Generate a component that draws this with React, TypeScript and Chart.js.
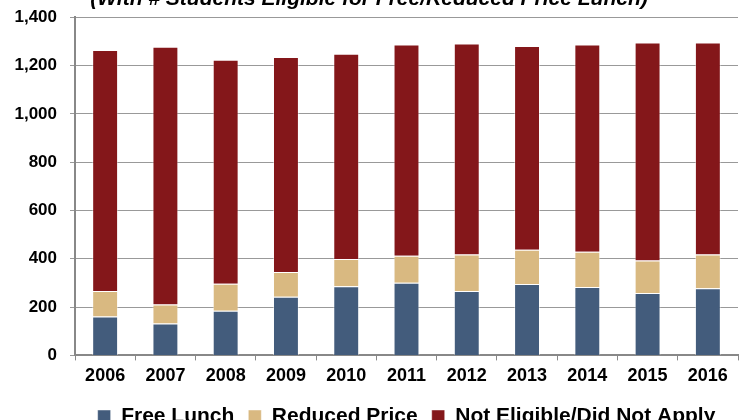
import React, { useEffect, useRef } from "react";
import { Chart, registerables } from "chart.js";

Chart.register(...registerables);

const years = ["2006", "2007", "2008", "2009", "2010", "2011", "2012", "2013", "2014", "2015", "2016"];
const freeLunch = [161, 132, 185, 243, 286, 301, 267, 296, 283, 258, 278];
const reducedPrice = [106, 79, 112, 102, 113, 111, 151, 141, 146, 135, 140];
const notEligible = [997, 1067, 927, 890, 850, 875, 873, 844, 858, 902, 877];
const yTicks = [0, 200, 400, 600, 800, 1000, 1200, 1400];

const titleText = "(With # Students Eligible for Free/Reduced Price Lunch)";
const seriesNames = ["Free Lunch", "Reduced Price", "Not Eligible/Did Not Apply"];
const seriesColors = ["#435C7C", "#D9B981", "#84171A"];

export default function App() {
  const ref = useRef<HTMLCanvasElement | null>(null);
  useEffect(() => {
    if (!ref.current) return;
    const font = "'Liberation Sans', Arial, sans-serif";
    const chart = new Chart(ref.current, {
      type: "bar",
      data: {
        labels: years,
        datasets: [freeLunch, reducedPrice, notEligible].map((d, i) => ({
          label: seriesNames[i],
          data: d,
          backgroundColor: seriesColors[i],
          borderColor: "rgba(255,255,255,0.45)",
          borderWidth: 1,
          categoryPercentage: 1,
          barPercentage: 0.43,
        })),
      },
      options: {
        animation: false,
        responsive: false,
        maintainAspectRatio: false,
        layout: { padding: { left: 0, right: 2, top: 0, bottom: 0 } },
        plugins: {
          title: {
            display: true,
            text: titleText,
            color: "#000",
            font: { family: font, size: 21, weight: "bold", style: "italic" },
            padding: { top: 0, bottom: 5 },
          },
          legend: {
            position: "bottom",
            fullSize: false,
            labels: {
              color: "#000",
              font: { family: font, size: 21, weight: "bold" },
              boxWidth: 13,
              boxHeight: 13,
              padding: 14,
            },
          },
          tooltip: { enabled: false },
        },
        scales: {
          x: {
            stacked: true,
            grid: {
              display: true,
              drawOnChartArea: false,
              drawTicks: true,
              tickLength: 5,
              color: "#888",
              lineWidth: 1,
            },
            border: { display: true, color: "#888", width: 2 },
            ticks: {
              color: "#000",
              font: { family: font, size: 18, weight: "bold" },
              padding: 5,
            },
          },
          y: {
            stacked: true,
            min: 0,
            max: 1400,
            afterFit: (axis: any) => {
              axis.width = 75;
            },
            afterBuildTicks: (axis: any) => {
              axis.ticks = yTicks.map((v) => ({ value: v }));
            },
            grid: {
              color: "#999",
              lineWidth: 1,
              drawTicks: true,
              tickLength: 5,
            },
            border: { display: true, color: "#888", width: 2 },
            ticks: {
              color: "#000",
              font: { family: font, size: 17, weight: "bold" },
              padding: 13,
              callback: (v: any) => Number(v).toLocaleString("en-US"),
            },
          },
        },
      },
    });
    return () => chart.destroy();
  }, []);
  return (
    <div style={{ position: "absolute", left: 0, top: -13, width: 740, height: 450 }}>
      <canvas ref={ref} width={740} height={450} style={{ width: 740, height: 450 }} />
    </div>
  );
}
